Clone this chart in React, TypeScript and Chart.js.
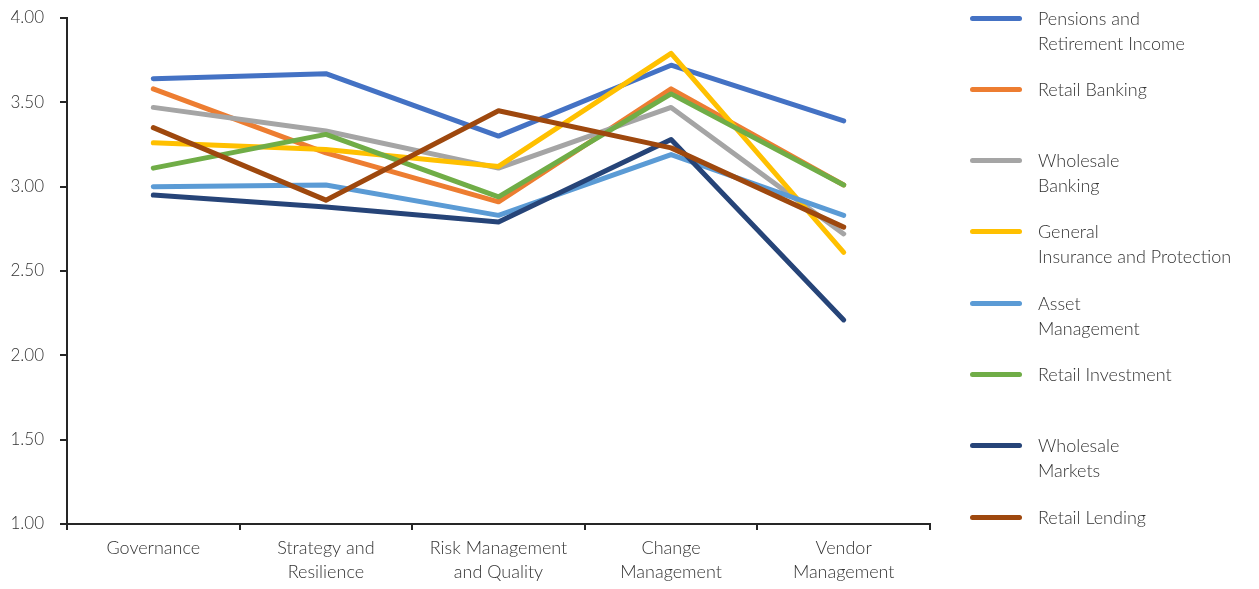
import React, { useEffect, useRef } from "react";
import { Chart, registerables } from "chart.js";

Chart.register(...registerables);

const categories: string[][] = [
  ["Governance"],
  ["Strategy and", "Resilience"],
  ["Risk Management", "and Quality"],
  ["Change", "Management"],
  ["Vendor", "Management"],
];

const seriesNames: string[][] = [
  ["Pensions and", "Retirement Income"],
  ["Retail Banking"],
  ["Wholesale", "Banking"],
  ["General", "Insurance and Protection"],
  ["Asset", "Management"],
  ["Retail Investment"],
  ["Wholesale", "Markets"],
  ["Retail Lending"],
];

const seriesColors = [
  "#4472C4",
  "#ED7D31",
  "#A5A5A5",
  "#FFC000",
  "#5B9BD5",
  "#70AD47",
  "#264478",
  "#9E480E",
];

const pensions = [3.64, 3.67, 3.3, 3.72, 3.39];
const retailBanking = [3.58, 3.2, 2.91, 3.58, 3.01];
const wholesaleBanking = [3.47, 3.33, 3.11, 3.47, 2.72];
const generalInsurance = [3.26, 3.22, 3.12, 3.79, 2.61];
const assetManagement = [3.0, 3.01, 2.83, 3.19, 2.83];
const retailInvestment = [3.11, 3.31, 2.94, 3.55, 3.01];
const wholesaleMarkets = [2.95, 2.88, 2.79, 3.28, 2.21];
const retailLending = [3.35, 2.92, 3.45, 3.23, 2.76];

const seriesValues = [
  pensions,
  retailBanking,
  wholesaleBanking,
  generalInsurance,
  assetManagement,
  retailInvestment,
  wholesaleMarkets,
  retailLending,
];

const yTicks = [1, 1.5, 2, 2.5, 3, 3.5, 4];

const FONT = "Lato, 'Open Sans', sans-serif";
const TEXT = "#333333";
const AXIS = "#262626";

export default function App() {
  const ref = useRef<HTMLCanvasElement | null>(null);

  useEffect(() => {
    if (!ref.current) return;
    const chart = new Chart(ref.current, {
      type: "line",
      data: {
        labels: categories,
        datasets: seriesValues.map((vals, i) => ({
          label: seriesNames[i].join(" "),
          data: vals,
          borderColor: seriesColors[i],
          backgroundColor: seriesColors[i],
          borderWidth: 5,
          borderCapStyle: "round" as const,
          borderJoinStyle: "round" as const,
          pointRadius: 0,
          tension: 0,
          order: seriesValues.length - 1 - i,
        })),
      },
      options: {
        animation: false,
        responsive: true,
        maintainAspectRatio: false,
        layout: { padding: { left: 0, top: 18, right: 329, bottom: 0 } },
        plugins: {
          legend: { display: false },
          tooltip: { enabled: false },
        },
        scales: {
          x: {
            type: "category",
            offset: true,
            grid: {
              offset: true,
              drawOnChartArea: false,
              drawTicks: true,
              tickLength: 6,
              color: AXIS,
              lineWidth: 2,
            },
            border: { display: true, color: AXIS, width: 2 },
            ticks: {
              color: TEXT,
              font: { family: FONT, size: 18, weight: 300, lineHeight: 1.33 },
              padding: 6,
              maxRotation: 0,
              autoSkip: false,
            },
            afterFit: (s: any) => {
              s.height = 65;
              s.paddingLeft = 0;
              s.paddingRight = 0;
            },
          },
          y: {
            min: 1,
            max: 4,
            afterBuildTicks: (s: any) => {
              s.ticks = yTicks.map((v) => ({ value: v }));
            },
            grid: {
              drawOnChartArea: false,
              drawTicks: true,
              tickLength: 7,
              color: AXIS,
              lineWidth: 2,
            },
            border: { display: true, color: AXIS, width: 2 },
            ticks: {
              color: TEXT,
              font: { family: FONT, size: 17, weight: 300 },
              padding: 16,
              callback: (v: any) => Number(v).toFixed(2),
            },
            afterFit: (s: any) => {
              s.width = 67;
              s.paddingTop = 0;
              s.paddingBottom = 0;
            },
          },
        },
      },
    });
    return () => chart.destroy();
  }, []);

  return (
    <div style={{ position: "fixed", left: 0, top: 0, width: 1259, height: 589, background: "#fff" }}>
      <canvas ref={ref} />
      <div
        style={{
          position: "absolute",
          left: 970,
          top: 5.5,
          fontFamily: FONT,
          fontSize: 18,
          fontWeight: 300,
          color: TEXT,
        }}
      >
        {seriesNames.map((name, i) => (
          <div key={i} style={{ height: 71.3, display: "flex", alignItems: "flex-start" }}>
            <div
              style={{
                width: 52,
                height: 5,
                borderRadius: 3,
                background: seriesColors[i],
                marginTop: 10,
                flexShrink: 0,
              }}
            />
            <div style={{ marginLeft: 16, lineHeight: "25px", whiteSpace: "nowrap" }}>
              {name.map((l, j) => (
                <div key={j}>{l}</div>
              ))}
            </div>
          </div>
        ))}
      </div>
    </div>
  );
}
